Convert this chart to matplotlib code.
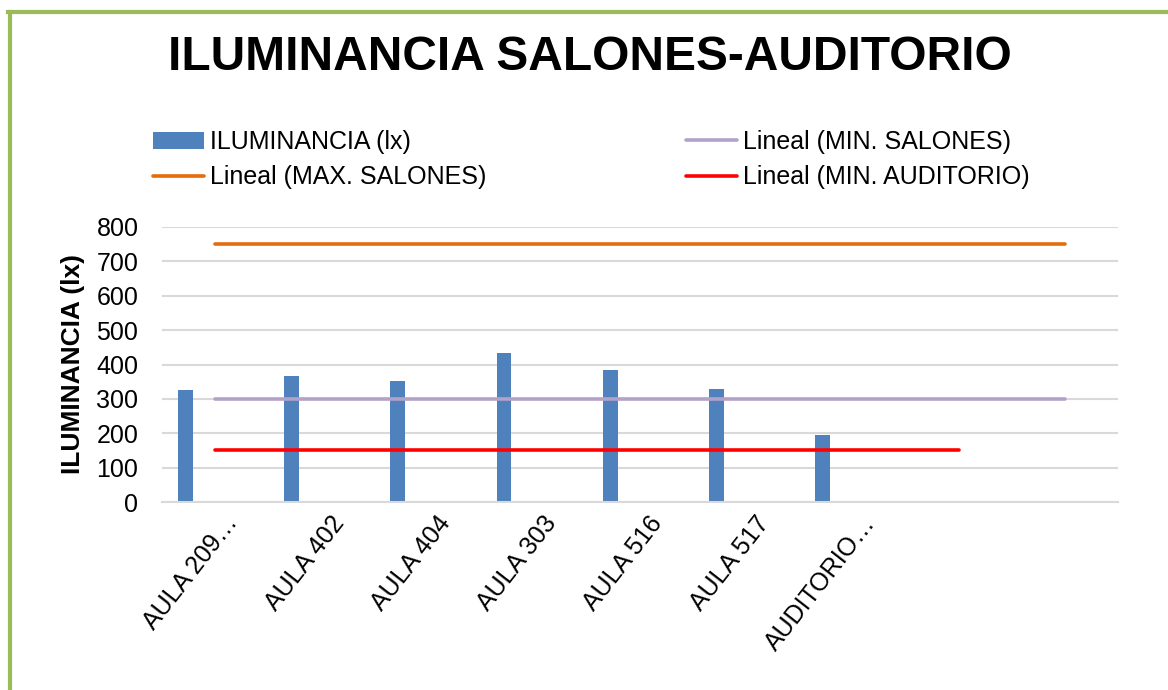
import numpy as np
import matplotlib
matplotlib.use('Agg')
import matplotlib.pyplot as plt
from matplotlib.lines import Line2D

plt.rcParams['font.family'] = ['Liberation Sans', 'DejaVu Sans']

# data
categorias = ['AULA 209…', 'AULA 402', 'AULA 404', 'AULA 303', 'AULA 516',
              'AULA 517', 'AUDITORIO…', '', '']
iluminancia = [326, 366, 351, 434, 384, 328, 194]
max_salones = [750] * 9
min_salones = [300] * 9
min_auditorio = [150] * 8

W, H = 1168, 690
fig = plt.figure(figsize=(W / 100, H / 100), dpi=100)
ax = fig.add_axes([162 / W, 1 - 502 / H, (1118 - 162) / W, (502 - 227) / H])

x = np.arange(len(categorias))
bars = ax.bar(x[:len(iluminancia)] - 0.28, iluminancia, width=0.14,
              color='#4f81bd', label='ILUMINANCIA (lx)', zorder=2)
l_max, = ax.plot(x[:len(max_salones)], max_salones, color='#e46c0a', lw=2.6,
                 solid_capstyle='round', label='Lineal (MAX. SALONES)', zorder=3)
l_min, = ax.plot(x[:len(min_salones)], min_salones, color='#b3a2c7', lw=2.6,
                 solid_capstyle='round', label='Lineal (MIN. SALONES)', zorder=3)
l_aud, = ax.plot(x[:len(min_auditorio)], min_auditorio, color='#ff0000', lw=2.6,
                 solid_capstyle='round', label='Lineal (MIN. AUDITORIO)', zorder=3)

ax.set_xlim(-0.5, len(categorias) - 0.5)
ax.set_ylim(0, 800)
ax.set_yticks(range(0, 801, 100))
ax.yaxis.grid(True, color='#d9d9d9', lw=1.5, zorder=0)
ax.set_axisbelow(True)
for s in ['top', 'right', 'left']:
    ax.spines[s].set_visible(False)
ax.spines['bottom'].set_color('#d9d9d9')
ax.spines['bottom'].set_linewidth(1.5)
ax.tick_params(axis='both', length=0, labelsize=18)
ax.tick_params(axis='y', pad=17)

# labels sit a little right of the category centre, as in Excel
ax.set_xticks(x + 0.17)
ax.set_xticklabels(categorias, rotation=52, ha='right', rotation_mode='anchor',
                   va='center')
ax.tick_params(axis='x', pad=12)

ax.set_ylabel('ILUMINANCIA (lx)', fontsize=19, fontweight='bold', labelpad=8)

fig.text(590 / W, 1 - 58 / H, 'ILUMINANCIA SALONES-AUDITORIO', fontsize=34.5,
         fontweight='bold', ha='center', va='center')

leg = fig.legend([bars, l_max, l_min, l_aud],
                 ['ILUMINANCIA (lx)', 'Lineal (MAX. SALONES)',
                  'Lineal (MIN. SALONES)', 'Lineal (MIN. AUDITORIO)'],
                 ncol=2, loc='upper left',
                 bbox_to_anchor=(153 / W, 1 - 130 / H), frameon=False,
                 fontsize=18, handlelength=2.05, handletextpad=0.25,
                 columnspacing=7.95, labelspacing=0.45, borderpad=0,
                 borderaxespad=0)

# green frame (left and top edges)
green = '#9bbb59'
fig.add_artist(Line2D([9.5 / W, 9.5 / W], [0, 1 - 11.5 / H], color=green,
                      lw=3, transform=fig.transFigure))
fig.add_artist(Line2D([8 / W, 1], [1 - 11.5 / H, 1 - 11.5 / H], color=green,
                      lw=3, transform=fig.transFigure))

fig.savefig('out.png', dpi=100)
